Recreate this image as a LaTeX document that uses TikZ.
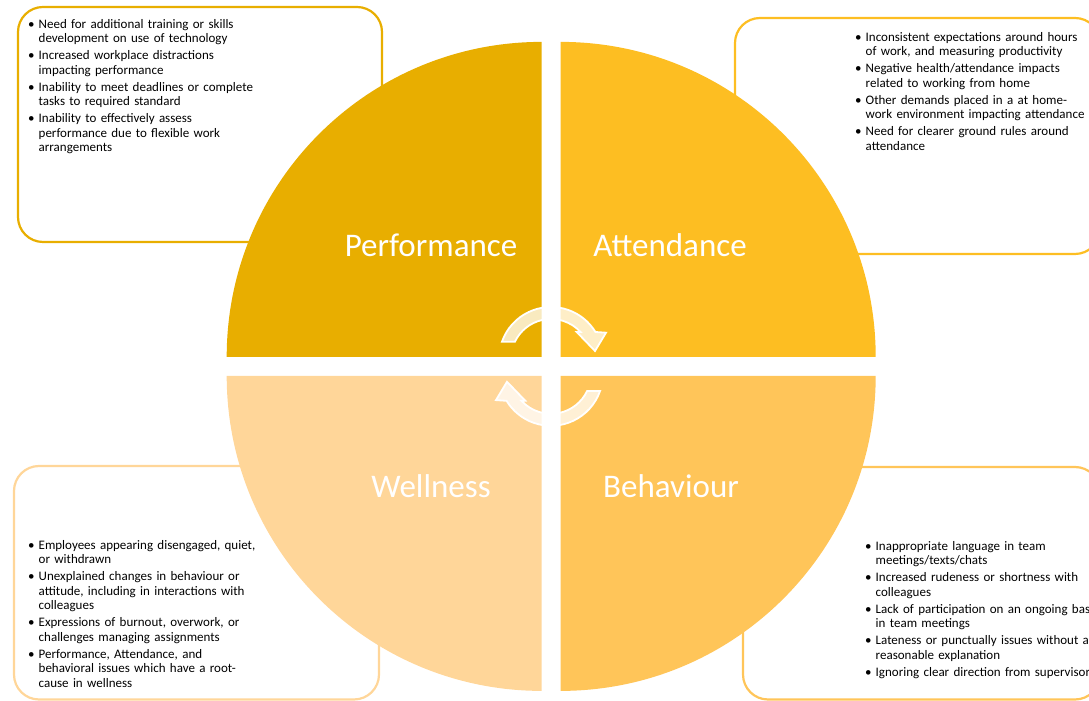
\documentclass[tikz,border=0pt]{standalone}
\usepackage{fontspec}
\setmainfont{Carlito}
\usetikzlibrary{positioning}
\definecolor{mgold}{HTML}{E8AE00}
\definecolor{mamber}{HTML}{FDBE22}
\definecolor{mpeach}{HTML}{FFD699}
\definecolor{mapricot}{HTML}{FFC559}
\newcommand{\itm}[1]{\hangindent=10.5pt\hangafter=1\noindent\makebox[10.5pt][l]{\textbullet}#1\par\vspace{2.5pt}}
\tikzstyle{card} = [rectangle, rounded corners=25pt, line width=2.2pt, fill=white, inner sep=0pt]
\tikzstyle{notes} = [anchor=base west, inner sep=0pt, text width=270pt, align=left, font=\fontsize{13}{14.5}\selectfont]
\tikzstyle{title} = [text=white, font=\fontsize{33}{36}\selectfont]
\tikzstyle{swirl} = [draw=white, line width=1.8pt, fill=white, fill opacity=0.75]

\begin{document}
\begin{tikzpicture}[x=1pt, y=1pt]
\useasboundingbox (0,0) rectangle (1089,701);
\node (perfcard) [card, draw=mgold, minimum width=364pt, minimum height=235pt] at (200,576.5) {};
\node (attcard) [card, draw=mamber, minimum width=365pt, minimum height=236pt] at (917.5,565) {};
\node (wellcard) [card, draw=mpeach, minimum width=365pt, minimum height=233.5pt] at (196.5,118.25) {};
\node (behcard) [card, draw=mapricot, minimum width=357pt, minimum height=232.5pt] at (921.5,117.75) {};
\node (perftext) [notes] at (28,672.5) {
\itm{Need for additional training or skills\newline development on use of technology}
\itm{Increased workplace distractions\newline impacting performance}
\itm{Inability to meet deadlines or complete\newline tasks to required standard}
\itm{Inability to effectively assess\newline performance due to flexible work\newline arrangements}};
\node (atttext) [notes] at (855,659.5) {
\itm{Inconsistent expectations around hours\newline of work, and measuring productivity}
\itm{Negative health/attendance impacts\newline related to working from home}
\itm{Other demands placed in a at home-\newline work environment impacting attendance}
\itm{Need for clearer ground rules around\newline attendance}};
\node (welltext) [notes] at (28,151.5) {
\itm{Employees appearing disengaged, quiet,\newline or withdrawn}
\itm{Unexplained changes in behaviour or\newline attitude, including in interactions with\newline colleagues}
\itm{Expressions of burnout, overwork, or\newline challenges managing assignments}
\itm{Performance, Attendance, and\newline behavioral issues which have a root-\newline cause in wellness}};
\node (behtext) [notes] at (865,150.5) {
\itm{Inappropriate language in team\newline meetings/texts/chats}
\itm{Increased rudeness or shortness with\newline colleagues}
\itm{Lack of participation on an ongoing basis\newline in team meetings}
\itm{Lateness or punctually issues without a\newline reasonable explanation}
\itm{Ignoring clear direction from supervisor}};
\coordinate (hub) at (551.2,334.6);
\fill [mgold] ([shift={(-9.5,9.5)}]hub) -- ++(-315,0) arc[start angle=180, end angle=90, radius=315] -- cycle;
\fill [mamber] ([shift={(9.5,9.5)}]hub) -- ++(0,315) arc[start angle=90, end angle=0, radius=315] -- cycle;
\fill [mpeach] ([shift={(-9.5,-9.5)}]hub) -- ++(-315,0) arc[start angle=180, end angle=270, radius=315] -- cycle;
\fill [mapricot] ([shift={(9.5,-9.5)}]hub) -- ++(0,-315) arc[start angle=270, end angle=360, radius=315] -- cycle;
\node (perf) [title] at (431,456) {Performance};
\node (att) [title] at (670,456) {Attendance};
\node (well) [title] at (431,215) {Wellness};
\node (beh) [title] at (671,215) {Behaviour};
\filldraw [swirl, shift={(551,342)}] (160.6:52) arc[start angle=160.6, end angle=31.3, radius=52] -- (55,26.3) -- (44,8) -- (25.7,27) -- (42.5:40) arc[start angle=42.5, end angle=154.4, radius=40] -- cycle;
\filldraw [swirl, shift={(551,327.2)}, rotate=180] (160.6:52) arc[start angle=160.6, end angle=31.3, radius=52] -- (55,26.3) -- (44,8) -- (25.7,27) -- (42.5:40) arc[start angle=42.5, end angle=154.4, radius=40] -- cycle;
\end{tikzpicture}
\end{document}
